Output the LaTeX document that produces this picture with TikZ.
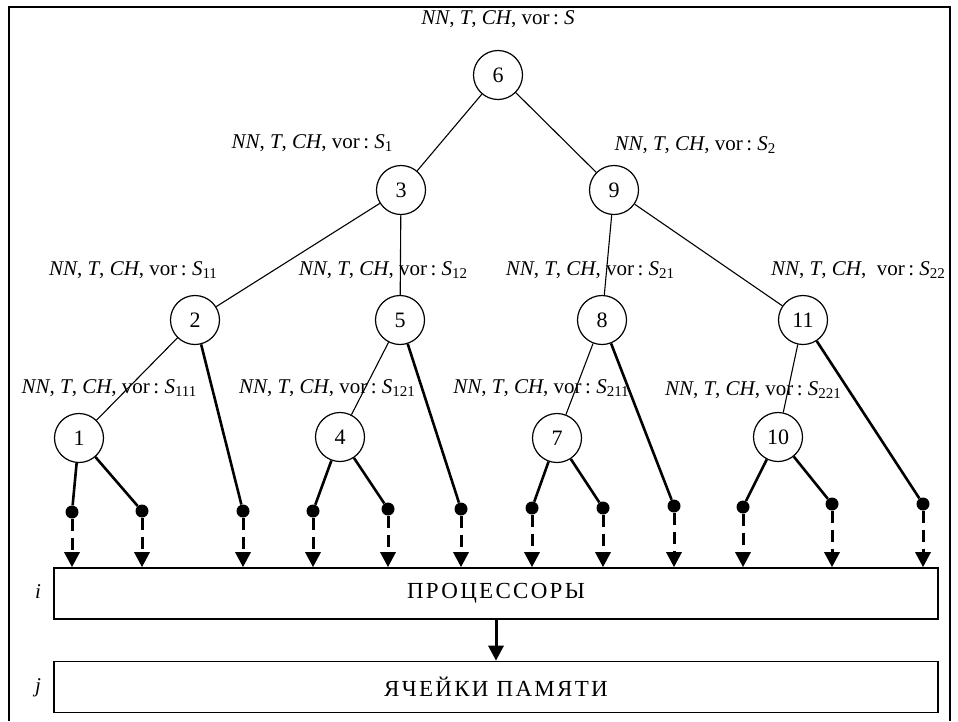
\documentclass[tikz,border=0pt]{standalone}
\usepackage{fontspec}
\setmainfont{Liberation Serif}
\newfontfamily\spacedfont[LetterSpace=10]{Liberation Serif}
\usepackage{tikz}
\usetikzlibrary{arrows.meta}
\newcommand{\vorlab}[1]{\textit{NN}, \textit{T}, \textit{CH}, vor\,:\ \textit{S}\raisebox{-0.35ex}{\fontsize{15}{16}\selectfont #1}}

\begin{document}
\begin{tikzpicture}[x=1pt, y=-1pt, font=\fontsize{21}{24}\selectfont,
  vertex/.style={circle, draw, line width=1.2pt, minimum size=49pt, inner sep=0pt, font=\fontsize{22}{24}\selectfont},
  leaf/.style={circle, fill, inner sep=0pt, minimum size=13pt},
  edge/.style={line width=1.1pt},
  twig/.style={line width=2.6pt},
  feed/.style={line width=3pt, dash pattern=on 12pt off 7pt, -{Triangle[length=15pt,width=15pt]}},
  unit/.style={draw, line width=1.6pt, minimum width=884pt, minimum height=51pt, font=\fontsize{23}{26}\spacedfont}]
\useasboundingbox (0,0) rectangle (958,721);
\draw[line width=1.2pt] (9,721) -- (9,7) -- (950,7) -- (950,721);
% tree
\foreach \n/\x/\y in {6/498/75, 3/401/190, 9/614/190, 2/195/320, 5/400/320, 8/602/320, 11/803/320, 1/79/438, 4/340/437, 7/557/438, 10/778/437}
  \node[vertex] (n\n) at (\x,\y) {\n};
\foreach \a/\b in {6/3, 6/9, 3/2, 3/5, 9/8, 9/11, 2/1, 5/4, 8/7, 11/10}
  \draw[edge] (n\a) -- (n\b);
% labels
\node (l6) at (498,19) {\vorlab{}};
\node (l3) at (312,143) {\vorlab{1}};   \node (l9) at (695,145) {\vorlab{2}};
\node (l2) at (133,270) {\vorlab{11}};  \node (l5) at (383,270) {\vorlab{12}};
\node (l8) at (590,270) {\vorlab{21}};
\node (l11) at (858,270) {\textit{NN}, \textit{T}, \textit{CH},\ \ vor\,:\ \textit{S}\raisebox{-0.35ex}{\fontsize{15}{16}\selectfont 22}};
\node (l1) at (109,388) {\vorlab{111}}; \node (l4) at (327,388) {\vorlab{121}};
\node (l7) at (541,388) {\vorlab{211}}; \node (l10) at (753,390) {\vorlab{221}};
% processors and memory
\node[unit] (proc) at (496,593.5) {ПРОЦЕССОРЫ};
\node[unit] (mem) at (496,687) {ЯЧЕЙКИ ПАМЯТИ};
\node (ii) at (38,592) {\textit{i}}; \node (jj) at (38,688) {\textit{j}};
\draw[line width=3pt, -{Triangle[length=15pt,width=15pt]}] (proc.south) -- (mem.north);
% leaves
\foreach \x/\y/\p [count=\k] in {72/512/1, 142/511/1, 243/511/2, 313/511/4, 388/509/4, 461/509/5, 532/508/7, 603/508/7, 674/506/8, 743/507/10, 832/504/10, 923/504/11} {
  \node[leaf] (d\k) at (\x,\y) {};
  \draw[twig] (n\p) -- (d\k);
  \draw[feed] (d\k.south) -- (d\k.south |- proc.north);
}
\end{tikzpicture}
\end{document}
